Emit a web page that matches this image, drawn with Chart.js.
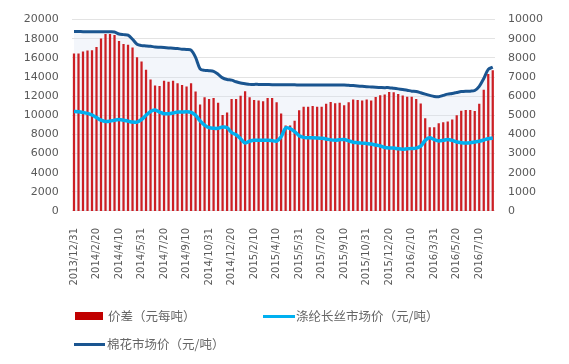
<!DOCTYPE html>
<html>
<head>
<meta charset="utf-8">
<script src="https://cdn.jsdelivr.net/npm/chart.js@4"></script>
<style>
  html, body { margin: 0; padding: 0; background: #fff; }
  #wrap { position: relative; width: 569px; height: 364px; }
  .lg { position: absolute; font: 12.5px "Noto Sans CJK SC", sans-serif; color: #666; line-height: 16px; white-space: nowrap; }
  .sw { position: absolute; }
</style>
</head>
<body>
<div id="wrap">
  <canvas id="c" width="569" height="364"></canvas>
  <div class="sw" style="left:75px;top:312px;width:28px;height:8px;background:#C00000"></div>
  <div class="lg" style="left:108px;top:308px">价差（元每吨）</div>
  <div class="sw" style="left:263px;top:315px;width:32px;height:3px;background:#00B0F0"></div>
  <div class="lg" style="left:296px;top:308px">涤纶长丝市场价（元/吨）</div>
  <div class="sw" style="left:74px;top:343px;width:31px;height:3px;background:#1A5590"></div>
  <div class="lg" style="left:107px;top:336px">棉花市场价（元/吨）</div>
</div>
<script>
const dates = [
  '2013/12/31',
  '2014/1/10', '2014/1/20', '2014/1/31', '2014/2/10', '2014/2/20', '2014/2/28', '2014/3/10', '2014/3/20', '2014/3/31',
  '2014/4/10', '2014/4/20', '2014/4/30', '2014/5/10', '2014/5/20', '2014/5/31', '2014/6/10', '2014/6/20', '2014/6/30',
  '2014/7/10', '2014/7/20', '2014/7/31', '2014/8/10', '2014/8/20', '2014/8/31', '2014/9/10', '2014/9/20', '2014/9/30',
  '2014/10/10', '2014/10/20', '2014/10/31', '2014/11/10', '2014/11/20', '2014/11/30', '2014/12/10', '2014/12/20', '2014/12/31',
  '2015/1/10', '2015/1/20', '2015/1/31', '2015/2/10', '2015/2/28', '2015/3/10', '2015/3/20', '2015/3/31',
  '2015/4/10', '2015/4/20', '2015/4/30', '2015/5/10', '2015/5/20', '2015/5/31', '2015/6/10', '2015/6/20', '2015/6/30',
  '2015/7/10', '2015/7/20', '2015/7/31', '2015/8/10', '2015/8/20', '2015/8/31', '2015/9/10', '2015/9/20', '2015/9/30',
  '2015/10/10', '2015/10/20', '2015/10/31', '2015/11/10', '2015/11/20', '2015/11/30', '2015/12/10', '2015/12/20', '2015/12/31',
  '2016/1/10', '2016/1/20', '2016/1/31', '2016/2/10', '2016/2/20', '2016/2/29', '2016/3/10', '2016/3/20', '2016/3/31',
  '2016/4/10', '2016/4/20', '2016/4/30', '2016/5/10', '2016/5/20', '2016/5/31', '2016/6/10', '2016/6/20', '2016/6/30',
  '2016/7/10', '2016/7/20', '2016/7/31', '2016/8/10'
];

const tickLabels = ['2013/12/31', '2014/2/20', '2014/4/10', '2014/5/31', '2014/7/20', '2014/9/10', '2014/10/31',
  '2014/12/20', '2015/2/10', '2015/4/10', '2015/5/31', '2015/7/20', '2015/9/10', '2015/10/31', '2015/12/20',
  '2016/2/10', '2016/3/31', '2016/5/20', '2016/7/10'];

// 价差 (right axis)
const spread = [
  8230, 8230, 8330, 8380, 8400, 8570, 9010, 9250, 9250, 9200,
  8880, 8720, 8690, 8540, 8030, 7810, 7380, 6870, 6550, 6530,
  6800, 6750, 6800, 6670, 6580, 6510, 6670, 6240, 5560, 5940,
  5850, 5900, 5650, 5020, 5150, 5850, 5850, 6020, 6260, 5940,
  5800, 5770, 5730, 5900, 5900, 5680, 5090, 4460, 4460, 4710,
  5260, 5440, 5440, 5480, 5440, 5440, 5600, 5700, 5630, 5650,
  5530, 5680, 5820, 5800, 5770, 5830, 5770, 5950, 6050, 6090,
  6220, 6210, 6110, 6040, 5970, 5970, 5850, 5610, 4850, 4370,
  4370, 4580, 4640, 4680, 4780, 5000, 5240, 5270, 5270, 5220,
  5600, 6340, 7160, 7350
];

// 涤纶长丝市场价 (left axis)
const polyester = [
  10400, 10360, 10290, 10200, 10030, 9760, 9490, 9350, 9390, 9490,
  9560, 9490, 9390, 9290, 9290, 9560, 10000, 10400, 10550, 10340,
  10170, 10170, 10240, 10340, 10340, 10370, 10300, 10000, 9420, 8980,
  8710, 8640, 8640, 8780, 8710, 8200, 7960, 7550, 7110, 7280,
  7380, 7380, 7380, 7380, 7350, 7310, 7750, 8670, 8600, 8300,
  7870, 7690, 7650, 7640, 7620, 7590, 7530, 7430, 7380, 7450,
  7470, 7330, 7190, 7140, 7090, 7040, 6990, 6890, 6790, 6630,
  6570, 6570, 6500, 6460, 6500, 6530, 6570, 6770, 7380, 7650,
  7450, 7310, 7380, 7480, 7380, 7210, 7140, 7110, 7140, 7210,
  7280, 7420, 7550, 7620
];

// 棉花市场价 (left axis)
const cotton = [
  18750, 18750, 18740, 18740, 18740, 18740, 18730, 18730, 18720, 18700,
  18500, 18430, 18370, 17950, 17420, 17280, 17250, 17210, 17140, 17110,
  17080, 17040, 17010, 16970, 16910, 16870, 16800, 16050, 14860, 14690,
  14660, 14590, 14290, 13910, 13740, 13670, 13500, 13370, 13300, 13230,
  13230, 13230, 13220, 13210, 13200, 13200, 13190, 13180, 13180, 13180,
  13170, 13170, 13170, 13170, 13160, 13160, 13160, 13160, 13160, 13160,
  13160, 13130, 13100, 13060, 13030, 12990, 12960, 12930, 12910, 12890,
  12890, 12820, 12760, 12690, 12620, 12520, 12480, 12350, 12210, 12080,
  11970, 11940, 12080, 12210, 12280, 12380, 12480, 12520, 12520, 12590,
  13030, 13840, 14800, 15030
];

const tickFont = { family: 'DejaVu Sans', size: 11 };
const plain = v => String(v);

new Chart(document.getElementById('c'), {
  data: {
    labels: dates,
    datasets: [
      {
        type: 'line',
        label: '棉花市场价（元/吨）',
        data: cotton,
        yAxisID: 'y',
        borderColor: '#1A5590',
        backgroundColor: 'rgba(214,226,242,0.3)',
        fill: 'origin',
        borderWidth: 3,
        pointRadius: 0,
        tension: 0.3,
        order: 3
      },
      {
        type: 'line',
        label: '涤纶长丝市场价（元/吨）',
        data: polyester,
        yAxisID: 'y',
        borderColor: '#00B0F0',
        borderWidth: 3.5,
        pointRadius: 0,
        tension: 0.3,
        order: 1
      },
      {
        type: 'bar',
        label: '价差（元每吨）',
        data: spread,
        yAxisID: 'y1',
        backgroundColor: '#CC1F24',
        barPercentage: 0.5,
        categoryPercentage: 1,
        order: 2
      }
    ]
  },
  options: {
    responsive: false,
    animation: false,
    layout: { padding: { left: 10.75, right: 13, top: 12.4, bottom: 69.4 } },
    plugins: { legend: { display: false }, tooltip: { enabled: false } },
    scales: {
      x: {
        grid: { display: false },
        border: { display: false },
        ticks: {
          autoSkip: false,
          maxRotation: 90,
          minRotation: 90,
          padding: 9,
          color: '#595959',
          font: { family: 'DejaVu Sans', size: 10 },
          callback: function (v) {
            const lab = this.getLabelForValue(v);
            return tickLabels.includes(lab) ? lab : '';
          }
        }
      },
      y: {
        position: 'left',
        min: 0,
        max: 20000,
        grid: { color: '#e3e3e3', drawTicks: false },
        border: { display: false },
        ticks: { stepSize: 2000, padding: 13, color: '#595959', font: tickFont, callback: plain }
      },
      y1: {
        position: 'right',
        min: 0,
        max: 10000,
        grid: { display: false, drawTicks: false },
        border: { display: false },
        ticks: { stepSize: 1000, padding: 13, color: '#595959', font: tickFont, callback: plain }
      }
    }
  }
});
</script>
</body>
</html>
